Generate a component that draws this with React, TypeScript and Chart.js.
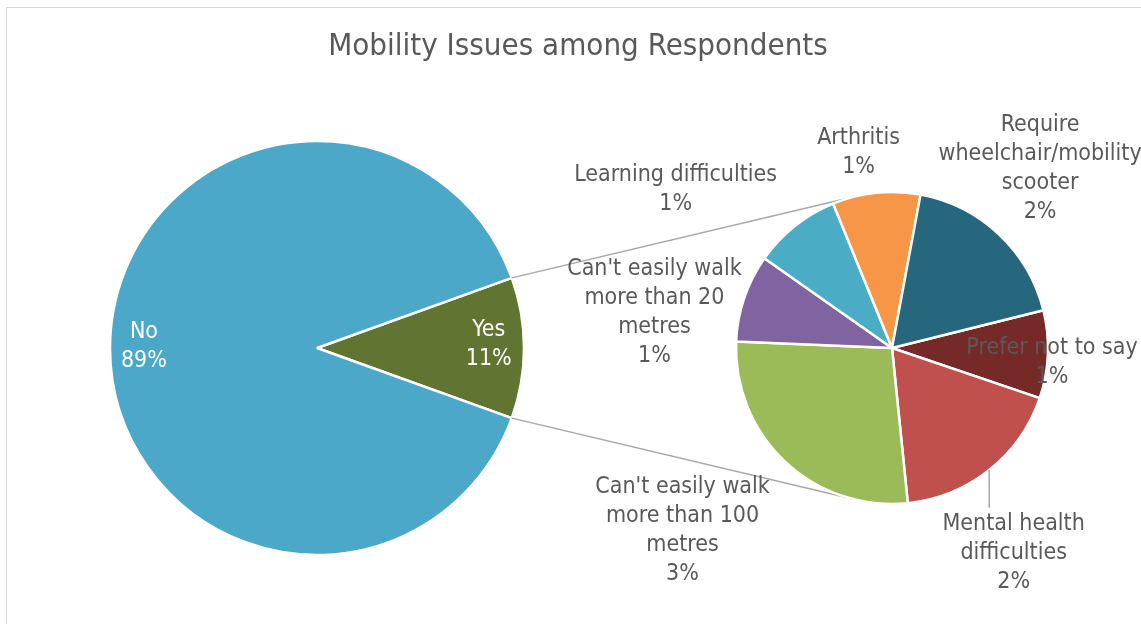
import React, { useEffect, useRef } from "react";
import { Chart, registerables } from "chart.js";

Chart.register(...registerables);

// ---- data ----
const TITLE = "Mobility Issues among Respondents";

const mainLabels = ["Yes", "No"];
const mainValues = [11, 89];
const mainColors = ["#617532", "#4BA8C8"];

// breakdown of the "Yes" slice, drawn clockwise from the upper right
const subLabels: string[][] = [
  ["Prefer not to say"],
  ["Mental health", "difficulties"],
  ["Can't easily walk", "more than 100", "metres"],
  ["Can't easily walk", "more than 20", "metres"],
  ["Learning difficulties"],
  ["Arthritis"],
  ["Require", "wheelchair/mobility", "scooter"],
];
const subValues = [1, 2, 3, 1, 1, 1, 2];
const subColors = ["#762A28", "#C0504D", "#9BBB59", "#8064A2", "#4BACC6", "#F79646", "#26677D"];

// ---- layout & style ----
const W = 1141;
const H = 624;
const FONT = '"DejaVu Sans Condensed", "DejaVu Sans", sans-serif';
const LABEL_SIZE = 23;
const TITLE_SIZE = 31;
const LINE_H = 29;
const TEXT_COLOR = "#595959";

// label placement: distance from centre (in radii) and turn from the slice's mid angle (deg)
const mainPlacement = [
  { dist: 0.83, turn: -1.3, color: "#FFFFFF" },
  { dist: 0.836, turn: 0.5, color: "#FFFFFF" },
];
const subPlacement = [
  { dist: 1.03, turn: 2.8, leader: false },
  { dist: 1.53, turn: 7.9, leader: true },
  { dist: 1.78, turn: 5.7, leader: false },
  { dist: 1.54, turn: -10.2, leader: false },
  { dist: 1.72, turn: -15.2, leader: false },
  { dist: 1.27, turn: -3.9, leader: false },
  { dist: 1.49, turn: -3.7, leader: false },
];

const grandTotal = mainValues.reduce((a, b) => a + b, 0);
const pct = (v: number) => `${Math.round((v / grandTotal) * 100)}%`;

function drawBlock(ctx: CanvasRenderingContext2D, lines: string[], x: number, cy: number, color: string) {
  ctx.save();
  ctx.font = `${LABEL_SIZE}px ${FONT}`;
  ctx.fillStyle = color;
  ctx.textAlign = "center";
  ctx.textBaseline = "middle";
  const top = cy - ((lines.length - 1) * LINE_H) / 2;
  lines.forEach((t, i) => ctx.fillText(t, x, top + i * LINE_H));
  ctx.restore();
}

function tangentPoint(px: number, py: number, cx: number, cy: number, r: number, side: number) {
  const dx = px - cx;
  const dy = py - cy;
  const d = Math.hypot(dx, dy);
  const base = Math.atan2(dy, dx);
  const t = base + side * Math.acos(r / d);
  return [cx + r * Math.cos(t), cy + r * Math.sin(t)];
}

export default function App() {
  const mainRef = useRef<HTMLCanvasElement>(null);
  const subRef = useRef<HTMLCanvasElement>(null);

  useEffect(() => {
    if (!mainRef.current || !subRef.current) return;

    const yesAngle = (mainValues[0] / grandTotal) * 360;

    const mainLabelPlugin = {
      id: "mainLabels",
      afterDatasetsDraw(chart: any) {
        const ctx = chart.ctx as CanvasRenderingContext2D;
        // title
        ctx.save();
        ctx.font = `${TITLE_SIZE}px ${FONT}`;
        ctx.fillStyle = TEXT_COLOR;
        ctx.textAlign = "center";
        ctx.textBaseline = "middle";
        ctx.fillText(TITLE, 578, 47);
        ctx.restore();

        const meta = chart.getDatasetMeta(0);
        meta.data.forEach((arc: any, i: number) => {
          const p = mainPlacement[i];
          const mid = (arc.startAngle + arc.endAngle) / 2 + (p.turn * Math.PI) / 180;
          const r = arc.outerRadius * p.dist;
          const x = arc.x + r * Math.cos(mid);
          const y = arc.y + r * Math.sin(mid);
          drawBlock(ctx, [mainLabels[i], pct(mainValues[i])], x, y, p.color);
        });
      },
    };

    const mainChart = new Chart(mainRef.current, {
      type: "pie",
      data: {
        labels: mainLabels,
        datasets: [
          {
            data: mainValues,
            backgroundColor: mainColors,
            borderColor: "#FFFFFF",
            borderWidth: 2.5,
          },
        ],
      },
      options: {
        responsive: false,
        animation: false,
        events: [],
        rotation: 90 - yesAngle / 2,
        radius: 207,
        layout: { padding: { left: 0, right: 507, top: 72, bottom: 0 } },
        plugins: { legend: { display: false }, tooltip: { enabled: false }, title: { display: false } },
      } as any,
      plugins: [mainLabelPlugin],
    });

    const subPlugin = {
      id: "subLabels",
      beforeDatasetsDraw(chart: any) {
        // connector lines from the "Yes" slice to the breakdown pie
        const ctx = chart.ctx as CanvasRenderingContext2D;
        const yes: any = mainChart.getDatasetMeta(0).data[0];
        const sub: any = chart.getDatasetMeta(0).data[0];
        if (!yes || !sub) return;
        const ends = [
          [yes.startAngle, 1],
          [yes.endAngle, -1],
        ];
        ctx.save();
        ctx.strokeStyle = "#A6A6A6";
        ctx.lineWidth = 1.5;
        ends.forEach(([ang, side]) => {
          const px = yes.x + yes.outerRadius * Math.cos(ang);
          const py = yes.y + yes.outerRadius * Math.sin(ang);
          const [tx, ty] = tangentPoint(px, py, sub.x, sub.y, sub.outerRadius, side);
          ctx.beginPath();
          ctx.moveTo(px, py);
          ctx.lineTo(tx, ty);
          ctx.stroke();
        });
        ctx.restore();
      },
      afterDatasetsDraw(chart: any) {
        const ctx = chart.ctx as CanvasRenderingContext2D;
        const meta = chart.getDatasetMeta(0);
        meta.data.forEach((arc: any, i: number) => {
          const p = subPlacement[i];
          const baseMid = (arc.startAngle + arc.endAngle) / 2;
          const mid = baseMid + (p.turn * Math.PI) / 180;
          const r = arc.outerRadius * p.dist;
          const x = arc.x + r * Math.cos(mid);
          const y = arc.y + r * Math.sin(mid);
          const lines = [...subLabels[i], pct(subValues[i])];
          if (p.leader) {
            const ex = arc.x + arc.outerRadius * Math.cos(baseMid);
            const ey = arc.y + arc.outerRadius * Math.sin(baseMid);
            const top = y - ((lines.length - 1) * LINE_H) / 2 - LINE_H / 2 - 2;
            ctx.save();
            ctx.strokeStyle = "#A6A6A6";
            ctx.lineWidth = 1.5;
            ctx.beginPath();
            ctx.moveTo(ex, ey);
            ctx.lineTo(ex, top);
            ctx.stroke();
            ctx.restore();
          }
          drawBlock(ctx, lines, x, y, TEXT_COLOR);
        });
      },
    };

    const subChart = new Chart(subRef.current, {
      type: "pie",
      data: {
        labels: subLabels,
        datasets: [
          {
            data: subValues,
            backgroundColor: subColors,
            borderColor: "#FFFFFF",
            borderWidth: 2.5,
          },
        ],
      },
      options: {
        responsive: false,
        animation: false,
        events: [],
        rotation: 76,
        radius: 156,
        layout: { padding: { left: 643, right: 0, top: 72, bottom: 0 } },
        plugins: { legend: { display: false }, tooltip: { enabled: false }, title: { display: false } },
      } as any,
      plugins: [subPlugin],
    });

    return () => {
      subChart.destroy();
      mainChart.destroy();
    };
  }, []);

  const canvasStyle: React.CSSProperties = { position: "absolute", left: 0, top: 0 };

  return (
    <div
      style={{
        position: "fixed",
        left: 0,
        top: 0,
        width: W,
        height: H,
        overflow: "hidden",
        background: "#FFFFFF",
      }}
    >
      <div
        style={{
          position: "absolute",
          left: 6,
          top: 7,
          width: W + 20,
          height: H + 20,
          border: "1.5px solid #D9D9D9",
          boxSizing: "border-box",
        }}
      />
      <canvas ref={mainRef} width={W} height={H} style={canvasStyle} />
      <canvas ref={subRef} width={W} height={H} style={canvasStyle} />
    </div>
  );
}
